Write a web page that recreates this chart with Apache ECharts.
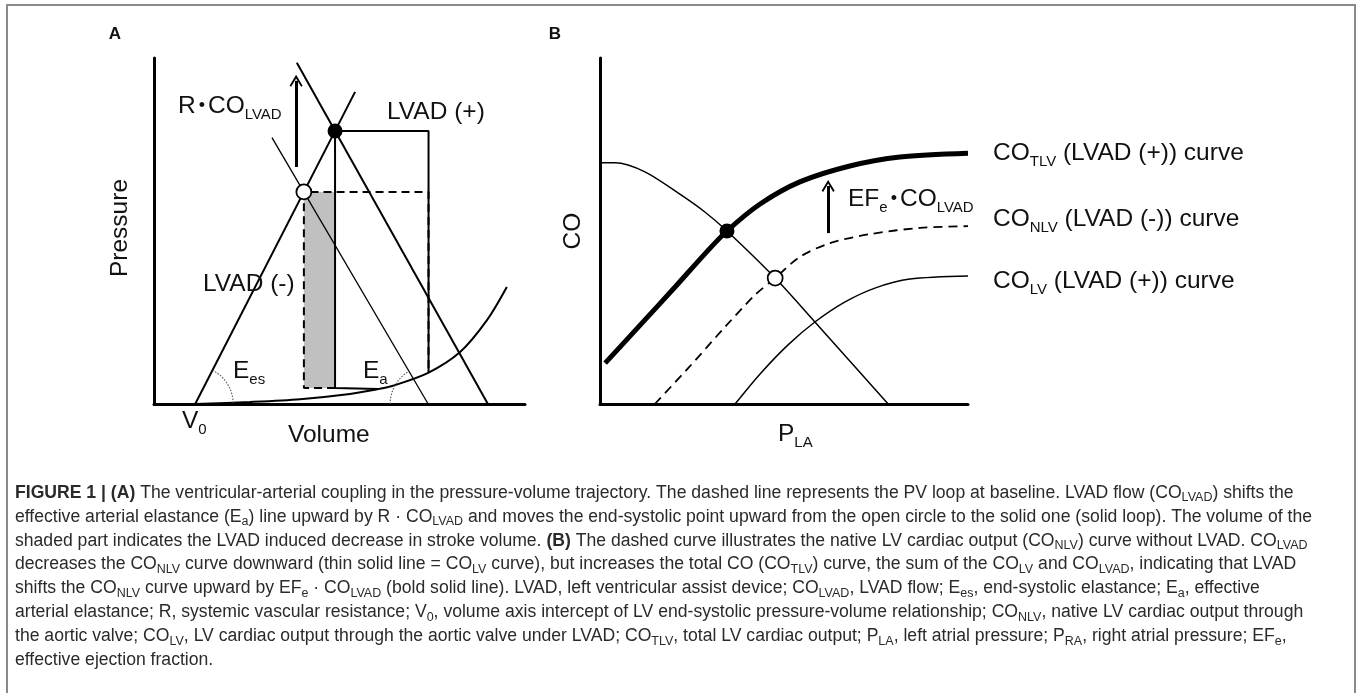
<!DOCTYPE html>
<html>
<head>
<meta charset="utf-8">
<script src="https://cdn.jsdelivr.net/npm/echarts@6/dist/echarts.min.js"></script>
<style>
html,body{margin:0;padding:0;background:#fff;}
#c{width:1357px;height:693px;}
</style>
</head>
<body>
<div id="c"></div>
<script>
// ---------- Panel A: pressure-volume plane (arbitrary units 0-100) ----------
const espvrLine      = [[11.1, 0], [54.2, 90.2]];              // end-systolic P-V relation (slope Ees)
const eaBaseline     = [[31.8, 77.0], [73.9, 0]];              // Ea line, LVAD (-)
const eaLvad         = [[38.5, 98.6], [90.0, 0]];              // Ea line shifted by R·CO_LVAD, LVAD (+)
const pvLoopBaseline = [[48.8, 4.6], [40.4, 4.6], [40.4, 61.3], [74.0, 61.3], [74.0, 9.0]];
const pvLoopLvad     = [[60.4, 4.3], [48.8, 4.6], [48.8, 78.9], [74.0, 78.9], [74.0, 9.0]];
const edpvr          = [[11.1, 0], [25.9, 0.6], [39.4, 1.4], [52.8, 2.9], [60.4, 4.3], [64.2, 5.2], [73.9, 9.0], [82.5, 15.0], [89.8, 24.3], [95.1, 33.8]];
const esPointBaseline = [40.4, 61.3];
const esPointLvad     = [48.8, 78.9];
const svDecreaseArea  = [[40.4, 4.6], [48.8, 61.3]];
const rcoArrow        = [[38.3, 68.5], [38.3, 93.4]];

// ---------- Panel B: CO vs P_LA (arbitrary units 0-100) ----------
const venousReturn = [[0, 69.7], [4.1, 69.7], [12.2, 67.1], [21.2, 61.0], [28.5, 55.5], [34.5, 50.0], [47.6, 36.4], [58.4, 23.7], [78.3, 0]];
const coTLV = [[1.4, 11.8], [10.9, 22.8], [20.4, 33.8], [28.5, 43.4], [34.5, 50.0], [43.5, 57.8], [54.3, 64.2], [67.9, 68.8], [81.5, 71.4], [100, 72.5]];
const coNLV = [[14.9, 0], [24.5, 11.0], [34.0, 22.3], [42.1, 31.5], [47.6, 36.4], [54.3, 42.5], [62.5, 46.5], [73.4, 49.1], [87.0, 50.9], [100, 51.4]];
const coLV  = [[36.7, 0], [43.5, 8.7], [51.1, 17.1], [58.4, 23.7], [66.6, 29.5], [74.7, 33.5], [84.2, 36.1], [100, 37.0]];
const opPointLvad     = [34.5, 50.0];
const opPointBaseline = [47.6, 36.4];
const efArrow         = [[62.0, 49.4], [62.0, 63.0]];

// ---------- Texts ----------
const captionLines = [
  '{b|FIGURE 1 | (A)} The ventricular-arterial coupling in the pressure-volume trajectory. The dashed line represents the PV loop at baseline. LVAD flow (CO{s|LVAD}) shifts the',
  'effective arterial elastance (E{s|a}) line upward by R · CO{s|LVAD} and moves the end-systolic point upward from the open circle to the solid one (solid loop). The volume of the',
  'shaded part indicates the LVAD induced decrease in stroke volume. {b|(B)} The dashed curve illustrates the native LV cardiac output (CO{s|NLV}) curve without LVAD. CO{s|LVAD}',
  'decreases the CO{s|NLV} curve downward (thin solid line = CO{s|LV} curve), but increases the total CO (CO{s|TLV}) curve, the sum of the CO{s|LV} and CO{s|LVAD}, indicating that LVAD',
  'shifts the CO{s|NLV} curve upward by EF{s|e} · CO{s|LVAD} (bold solid line). LVAD, left ventricular assist device; CO{s|LVAD}, LVAD flow; E{s|es}, end-systolic elastance; E{s|a}, effective',
  'arterial elastance; R, systemic vascular resistance; V{s|0}, volume axis intercept of LV end-systolic pressure-volume relationship; CO{s|NLV}, native LV cardiac output through',
  'the aortic valve; CO{s|LV}, LV cardiac output through the aortic valve under LVAD; CO{s|TLV}, total LV cardiac output; P{s|LA}, left atrial pressure; P{s|RA}, right atrial pressure; EF{s|e},',
  'effective ejection fraction.'
];

const FONT = '"Liberation Sans", Arial, Helvetica, sans-serif';
const INK = '#111';

const chart = echarts.init(document.getElementById('c'), null, {renderer: 'canvas'});

function axis(i) {
  return {
    type: 'value', gridIndex: i, min: 0, max: 100,
    axisLine: {show: true, onZero: false, lineStyle: {color: '#000', width: 3}},
    axisTick: {show: false}, axisLabel: {show: false}, splitLine: {show: false}
  };
}
function ln(data, g, width, extra) {
  return Object.assign({
    type: 'line', data: data, xAxisIndex: g, yAxisIndex: g,
    symbol: 'none', silent: true, animation: false,
    lineStyle: {color: '#000', width: width},
    emphasis: {disabled: true}
  }, extra || {});
}
function dot(point, g, filled) {
  return {
    type: 'scatter', data: [point], xAxisIndex: g, yAxisIndex: g, z: 10,
    symbol: 'circle', symbolSize: 15, silent: true,
    itemStyle: filled ? {color: '#000', opacity: 1} : {color: '#fff', borderColor: '#000', borderWidth: 1.8, opacity: 1},
    emphasis: {disabled: true}
  };
}
const ARROW = 'path://M7,0 L14,11 L12.4,12.2 L7,3.6 L1.6,12.2 L0,11 Z';
function arrowLine(seg) {
  return {
    silent: true, symbol: ['none', ARROW], symbolSize: [13, 12],
    label: {show: false}, emphasis: {disabled: true},
    lineStyle: {color: '#000', width: 3, type: 'solid'},
    data: [[{coord: seg[0]}, {coord: seg[1]}]]
  };
}
const SM = 0.3;

const option = {
  animation: false,
  backgroundColor: '#fff',
  grid: [
    {left: 154, top: 58, width: 371, height: 346},
    {left: 600, top: 58, width: 368, height: 346}
  ],
  xAxis: [axis(0), axis(1)],
  yAxis: [axis(0), axis(1)],
  series: [
    // Panel A
    ln(pvLoopBaseline, 0, 2, {
      lineStyle: {color: '#000', width: 2, type: [8, 5]},
      markArea: {silent: true, itemStyle: {color: '#c0c0c0'}, label: {show: false},
        data: [[{coord: svDecreaseArea[0]}, {coord: svDecreaseArea[1]}]]}
    }),
    ln(espvrLine, 0, 2),
    ln(eaBaseline, 0, 1.3),
    ln(eaLvad, 0, 2, {markLine: arrowLine(rcoArrow)}),
    ln(pvLoopLvad, 0, 2),
    ln(edpvr, 0, 2, {smooth: SM}),
    dot(esPointBaseline, 0, false),
    dot(esPointLvad, 0, true),
    // Panel B
    ln(venousReturn, 1, 1.5, {smooth: SM}),
    ln(coNLV, 1, 1.8, {smooth: SM, lineStyle: {color: '#000', width: 1.8, type: [9, 6]}}),
    ln(coLV, 1, 1.5, {smooth: SM, markLine: arrowLine(efArrow)}),
    ln(coTLV, 1, 5, {smooth: SM}),
    dot(opPointBaseline, 1, false),
    dot(opPointLvad, 1, true)
  ]
};
chart.setOption(option);

// ---------- annotation layer ----------
const LBL = 24.5;
const labelRich = {
  s: {fontSize: 15, fontFamily: FONT, fill: INK, padding: [16, 0, 0, 0], verticalAlign: 'middle'},
  d: {fontSize: 18, fontFamily: FONT, fill: INK, padding: [0, 3, 0, 3], verticalAlign: 'middle'}
};
function label(x, baseline, text) {
  return {
    type: 'text', x: x, y: baseline - LBL * 0.3465, silent: true, z: 20,
    style: {text: text, fontSize: LBL, fontFamily: FONT, fill: INK, align: 'left', verticalAlign: 'middle', rich: labelRich}
  };
}
const graphics = [
  {type: 'rect', silent: true, z: 0, shape: {x: 7, y: 5, width: 1348, height: 720},
   style: {fill: 'rgba(0,0,0,0)', stroke: '#8a8a8a', lineWidth: 2}},
  {type: 'text', x: 115, y: 34, silent: true, style: {text: 'A', fontSize: 17, fontWeight: 'bold', fontFamily: FONT, fill: INK, align: 'center', verticalAlign: 'middle'}},
  {type: 'text', x: 555, y: 34, silent: true, style: {text: 'B', fontSize: 17, fontWeight: 'bold', fontFamily: FONT, fill: INK, align: 'center', verticalAlign: 'middle'}},
  label(178, 115, 'R{d|•}CO{s|LVAD}'),
  label(387, 121, 'LVAD (+)'),
  label(203, 293, 'LVAD (-)'),
  label(233, 380, 'E{s|es}'),
  label(363, 380, 'E{s|a}'),
  label(182, 430, 'V{s|0}'),
  label(288, 444, 'Volume'),
  {type: 'text', x: 120, y: 228, rotation: Math.PI / 2, silent: true,
   style: {text: 'Pressure', fontSize: LBL, fontFamily: FONT, fill: INK, align: 'center', verticalAlign: 'middle'}},
  {type: 'text', x: 573, y: 231, rotation: Math.PI / 2, silent: true,
   style: {text: 'CO', fontSize: LBL, fontFamily: FONT, fill: INK, align: 'center', verticalAlign: 'middle'}},
  label(778, 443, 'P{s|LA}'),
  label(848, 208, 'EF{s|e}{d|•}CO{s|LVAD}'),
  label(993, 162, 'CO{s|TLV} (LVAD (+)) curve'),
  label(993, 228, 'CO{s|NLV} (LVAD (-)) curve'),
  label(993, 290, 'CO{s|LV} (LVAD (+)) curve')
];

// dotted angle arcs for Ees (at V0) and Ea (at baseline Ea intercept)
const pV0 = chart.convertToPixel({gridIndex: 0}, espvrLine[0]);
const pEsTop = chart.convertToPixel({gridIndex: 0}, espvrLine[1]);
const pEaEnd = chart.convertToPixel({gridIndex: 0}, eaBaseline[1]);
const pEaTop = chart.convertToPixel({gridIndex: 0}, eaBaseline[0]);
let aEs = Math.atan2(pEsTop[1] - pV0[1], pEsTop[0] - pV0[0]);
let aEa = Math.atan2(pEaTop[1] - pEaEnd[1], pEaTop[0] - pEaEnd[0]);
if (aEa < 0) aEa += Math.PI * 2;
graphics.push({type: 'arc', silent: true, z: 5,
  shape: {cx: pV0[0], cy: pV0[1], r: 38, startAngle: aEs, endAngle: 0, clockwise: true},
  style: {stroke: '#555', lineWidth: 1.1, lineDash: [1.5, 1.5], fill: null}});
graphics.push({type: 'arc', silent: true, z: 5,
  shape: {cx: pEaEnd[0], cy: pEaEnd[1], r: 38, startAngle: Math.PI, endAngle: aEa, clockwise: true},
  style: {stroke: '#555', lineWidth: 1.1, lineDash: [1.5, 1.5], fill: null}});

// caption
const CAP = 17.6;
const CAPINK = '#2a2a2a';
const capRich = {
  b: {fontSize: CAP, fontWeight: 'bold', fontFamily: FONT, fill: CAPINK, verticalAlign: 'middle'},
  s: {fontSize: 12.5, fontFamily: FONT, fill: CAPINK, padding: [10, 0, 0, 0], verticalAlign: 'middle'}
};
captionLines.forEach(function (t, i) {
  graphics.push({type: 'text', x: 15, y: 499 + i * 23.9 - CAP * 0.3465, silent: true,
    style: {text: t, fontSize: CAP, fontFamily: FONT, fill: CAPINK, align: 'left', verticalAlign: 'middle', rich: capRich}});
});

chart.setOption({graphic: graphics});
</script>
</body>
</html>
